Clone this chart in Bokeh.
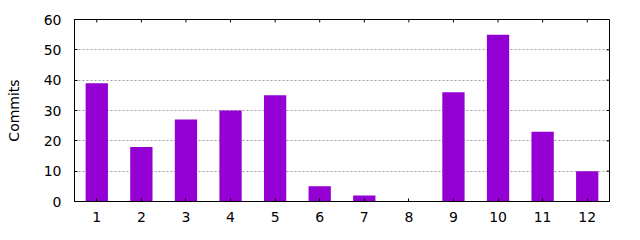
import math
from bokeh.plotting import figure
from bokeh.models import FixedTicker, Range1d, ColumnDataSource
from bokeh.embed import file_html
from bokeh.resources import INLINE

months = [1, 2, 3, 4, 5, 6, 7, 8, 9, 10, 11, 12]
commits = [39, 18, 27, 30, 35, 5, 2, 0, 36, 55, 23, 10]
y_ticks = [0, 10, 20, 30, 40, 50, 60]

FONT = "DejaVu Sans"
X0, X1 = 0.5, 12.5
Y0, Y1 = 0, 60
TICK = 3

src = ColumnDataSource(dict(x=months, top=commits))

p = figure(width=640, height=240, output_backend="svg", toolbar_location=None,
           x_range=Range1d(X0, X1), y_range=Range1d(Y0, Y1),
           min_border_left=74, min_border_right=31, min_border_top=19, min_border_bottom=39)
p.background_fill_color = "white"
p.border_fill_color = "white"
p.outline_line_color = "black"
p.outline_line_width = 1

p.xgrid.visible = False
p.ygrid.ticker = FixedTicker(ticks=y_ticks[1:-1])
p.ygrid.grid_line_color = "#a0a0a0"
p.ygrid.grid_line_dash = "2 2"
p.ygrid.grid_line_width = 1

p.vbar(x="x", top="top", width=0.5, source=src, fill_color="#9400D3", line_color=None)

# mirrored inward ticks on top and right edges
p.ray(x=months, y=[Y1] * len(months), length=TICK, length_units="screen",
      angle=-math.pi / 2, line_color="black", line_width=1)
p.ray(x=[X1] * len(y_ticks), y=y_ticks, length=TICK, length_units="screen",
      angle=math.pi, line_color="black", line_width=1)

def style(ax):
    ax.axis_line_color = "black"
    ax.major_tick_line_color = "black"
    ax.major_tick_in = TICK
    ax.major_tick_out = 0
    ax.minor_tick_line_color = None
    ax.major_label_text_font = FONT
    ax.major_label_text_font_size = "14px"
    ax.major_label_text_color = "black"

xa = p.xaxis[0]
xa.ticker = FixedTicker(ticks=months)
style(xa)
xa.major_label_standoff = 10

ya = p.yaxis[0]
ya.ticker = FixedTicker(ticks=y_ticks)
style(ya)
ya.major_label_standoff = 13
ya.axis_label = "Commits"
ya.axis_label_text_font = FONT
ya.axis_label_text_font_size = "14px"
ya.axis_label_text_font_style = "normal"
ya.axis_label_text_color = "black"
ya.axis_label_standoff = 19

open("out.html", "w").write(file_html(p, INLINE))
